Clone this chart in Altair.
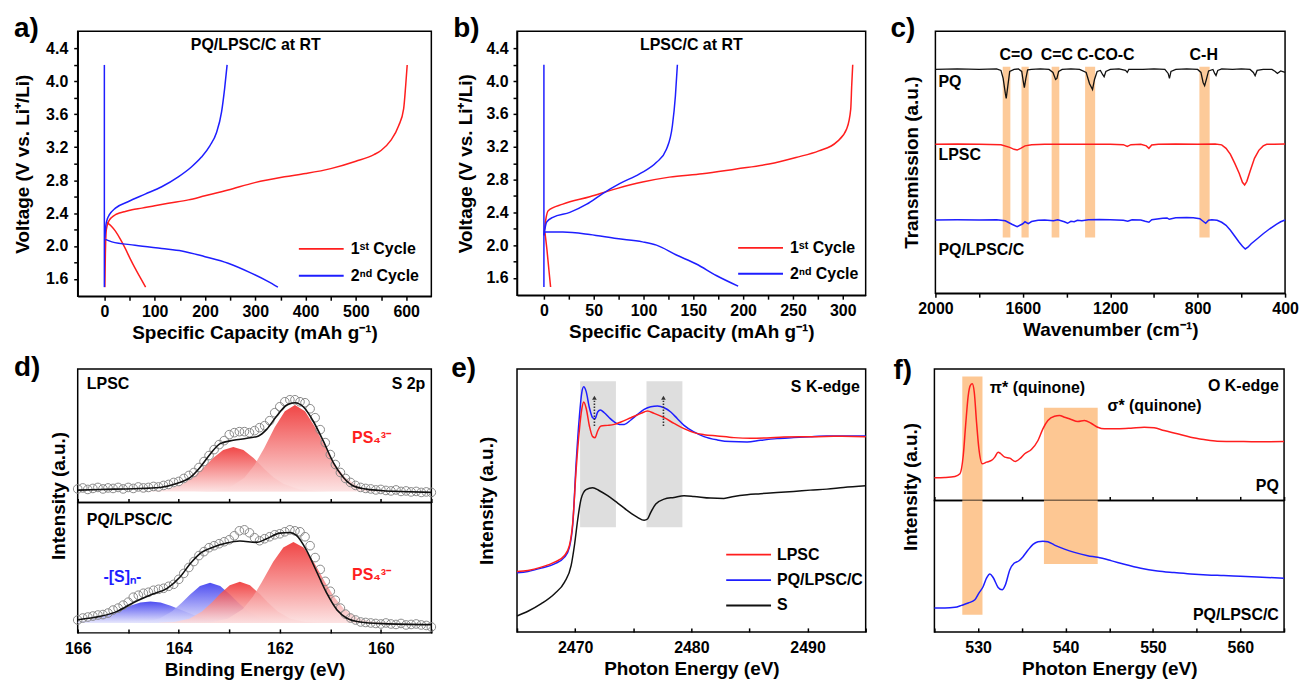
import altair as alt
import pandas as pd

FONT = "Liberation Sans"
RED = "#FF1E1E"
BLUE = "#1E1EFF"
BLACK = "#111111"
ORANGE = "#FDC793"
LGRAY = "#DEDEDE"
CIRC = "#8A8A8A"

# ---------------- Panel a : PQ/LPSC/C galvanostatic ----------------
A_TITLE = ["PQ/LPSC/C at RT"]
A_TITLE_X = [301]
A_TITLE_Y = [4.44]
CYC1 = "1ˢᵗ Cycle"
CYC2 = "2ⁿᵈ Cycle"
A_R_DIS_X = [4, 14, 22, 32, 41.5, 51, 61, 72, 82]
A_R_DIS_Y = [2.29, 2.24, 2.18, 2.08, 1.97, 1.85, 1.73, 1.61, 1.50]
A_R_CHG_X = [1, 2, 4, 8.6, 15, 22, 30, 41.5, 55, 74.5, 100, 127, 167, 200, 246, 299, 358, 400, 450, 500, 536, 550, 569, 585, 595, 599, 602]
A_R_CHG_Y = [1.5, 1.9, 2.2, 2.30, 2.35, 2.38, 2.40, 2.42, 2.44, 2.46, 2.49, 2.52, 2.56, 2.61, 2.68, 2.77, 2.84, 2.88, 2.94, 3.03, 3.11, 3.16, 3.28, 3.46, 3.67, 3.95, 4.2]
A_B_VERT_X = [0, 0]
A_B_VERT_Y = [1.5, 4.2]
A_B_DIS_X = [2, 15, 61, 114, 154, 200, 246, 292, 325, 345]
A_B_DIS_Y = [2.08, 2.05, 2.01, 1.97, 1.94, 1.87, 1.79, 1.67, 1.57, 1.50]
A_B_CHG_X = [1, 3, 6, 10, 22, 48, 81, 114, 147, 173, 193, 210, 223, 233, 239, 244]
A_B_CHG_Y = [2.1, 2.25, 2.33, 2.38, 2.46, 2.54, 2.63, 2.72, 2.84, 2.96, 3.08, 3.22, 3.38, 3.63, 3.91, 4.2]

# ---------------- Panel b : LPSC/C galvanostatic ----------------
B_TITLE = ["LPSC/C at RT"]
B_TITLE_X = [148]
B_TITLE_Y = [4.44]
B_R_DIS_X = [1, 3, 5, 6.7]
B_R_DIS_Y = [2.16, 1.95, 1.7, 1.49]
B_R_CHG_X = [0, 2, 4.3, 19, 46, 73, 99, 126, 159, 193, 226, 253, 276, 294, 304, 308, 309, 310]
B_R_CHG_Y = [2.12, 2.32, 2.42, 2.50, 2.59, 2.69, 2.77, 2.83, 2.87, 2.93, 2.99, 3.07, 3.15, 3.26, 3.42, 3.66, 3.95, 4.2]
B_B_VERT_X = [0, 0]
B_B_VERT_Y = [1.49, 4.2]
B_B_DIS_X = [1, 19, 46, 73, 99, 113, 133, 153, 173, 195]
B_B_DIS_Y = [2.16, 2.16, 2.13, 2.08, 2.04, 2.0, 1.88, 1.77, 1.63, 1.5]
B_B_CHG_X = [0, 2.7, 9, 26, 43, 59, 76, 96, 113, 123, 129, 132, 134]
B_B_CHG_Y = [2.12, 2.28, 2.34, 2.40, 2.50, 2.63, 2.75, 2.87, 3.01, 3.17, 3.46, 3.82, 4.2]

# ---------------- Panel c : FTIR ----------------
C_PQ_X = [2000,1900,1800,1720,1700,1690,1680,1676,1670,1660,1640,1620,1605,1598,1593,1586,1578,1560,1520,1480,1462,1450,1444,1436,1420,1380,1340,1310,1295,1281,1272,1260,1245,1235,1228,1220,1200,1160,1130,1122,1115,1050,1000,950,935,929,922,900,850,800,785,775,768,760,750,730,722,716,708,690,640,600,560,545,537,528,500,460,445,435,420,400]
C_PQ_Y = [224,224.5,224,224.5,223,215,200,195,205,222,224,224.5,222,212,205.7,215,223.5,224,224.5,224,221,214,215,222,224,224.5,224,221,210,204,214,222,223,219,216.7,222,224,224.5,223,221,224,224,224.5,224,220,215,222,224,224.5,224,221,211,207.7,214,222.5,224,220,218,223,224.5,224,224.5,224,221,217.7,223,224,224,222,220,222.5,221]
C_LPSC_X = [2000,1900,1800,1700,1660,1640,1626,1610,1590,1560,1500,1400,1300,1200,1140,1122,1105,1060,1035,1023,1010,980,900,800,720,690,670,650,630,610,595,585,575,560,540,520,500,484,450,400]
C_LPSC_Y = [149,149.3,149,148.5,146,144,143.3,145,147.5,148.7,149,149,149.2,149,148.7,147,148.7,149,147.5,145,148.3,149,149.3,149,149.3,148.5,145,139,130,120,111,108.3,112,122,135,143,147.5,149,149,149.3]
C_PQC_X = [2000,1900,1800,1720,1680,1650,1626,1600,1590,1575,1560,1530,1500,1460,1440,1410,1395,1380,1365,1350,1330,1300,1250,1200,1140,1120,1100,1060,1040,1023,1010,960,940,930,900,850,820,790,775,763,750,735,711,690,670,650,630,610,595,582,570,555,530,500,470,440,420,400]
C_PQC_Y = [73.3,73.5,73.3,73.5,72.5,69,66.7,69.5,71.5,69.7,71.7,73,73.3,72.5,73.5,71.5,70,72,71.5,73,72.5,73.5,73.8,73.5,73,72,73.5,73.3,72,71,73.5,75,75.3,74,75.5,75.7,75.5,74.5,72,70,73,73.5,73,71,68,63,57,51,47,44.3,46,49.5,54,59.5,64.5,69,71.5,73.3]
C_BAND_X1 = [1692, 1606, 1468, 1315, 792]
C_BAND_X2 = [1657, 1573, 1433, 1269, 745]
C_BAND_Y1 = [55.7] * 5
C_BAND_Y2 = [226.7] * 5
C_BOND_TXT = ["C=O", "C=C", "C-CO-C", "C-H"]
C_BOND_X = [1631, 1444, 1220, 772]
C_BOND_Y = [238.3, 238.3, 238.3, 238.3]
C_SAMPLE_TXT = ["PQ", "LPSC", "PQ/LPSC/C"]
C_SAMPLE_X = [1986, 1986, 1986]
C_SAMPLE_Y = [211.7, 138.3, 43.3]

# ---------------- Panel d : XPS S 2p ----------------
D_BE = [166.0,165.9,165.8,165.7,165.6,165.5,165.4,165.3,165.2,165.1,165.0,164.9,164.8,164.7,164.6,164.5,164.4,164.3,164.2,164.1,164.0,163.9,163.8,163.7,163.6,163.5,163.4,163.3,163.2,163.1,163.0,162.9,162.8,162.7,162.6,162.5,162.4,162.3,162.2,162.1,162.0,161.9,161.8,161.7,161.6,161.5,161.4,161.3,161.2,161.1,161.0,160.9,160.8,160.7,160.6,160.5,160.4,160.3,160.2,160.1,160.0,159.9,159.8,159.7,159.6,159.5,159.4,159.3,159.2,159.1,159.0]
D_TOP_PTS = [13.5,14.5,13,14,15,13.5,14.5,14,15,13.5,15,14,15.5,14.5,15,16,15.5,17,18,20,21,24,27,30,35,41,47,53,58,62,68,70,71,71,70,72,75,77,82,90,96,101,103,103,101,100,94,85,73,60,48,38,30,24,20,17,15,14,13.5,12.5,13,12,11.5,12.5,11,11.5,10.5,11,10,10.5,10]
D_BOT_PTS = [13,15,16,17,18,18.5,20,23,25,28,31,36,38,40,41,43,44,45,47,49,54,60,66,72,78,82,86,88,90,92,94,98,103,104,101,96,93,95,97,99,100,102,104,103,102,97,88,76,64,52,42,33,25,19,15,13,11,10.5,10,9.5,9,10,9,8.5,9.5,8,8.5,9,8,7.5,6]
D_TOP_FIT_X = [166.0,165.55,164.89,164.37,164.04,163.77,163.58,163.38,163.18,162.92,162.65,162.42,162.26,162.06,161.86,161.70,161.53,161.34,161.14,160.94,160.74,160.55,160.28,159.95,159.62,159.0]
D_TOP_FIT_Y = [12.3,13,13.7,15,19,25,35,48.3,59,62.3,64.3,66.7,73.3,86.7,97.7,100,95.7,81.7,61.7,40,25,16.7,13.3,11.7,11,10]
D_TOP_P1_X = [164.92,164.52,164.22,163.92,163.72,163.54,163.32,163.12,162.92,162.72,162.52,162.30,162.12,161.92,161.62,161.32,160.92]
D_TOP_P1_Y = [11,11.4,13.1,18.4,25.1,33.3,44.5,52.6,55.7,52.6,44.5,33.3,25.1,18.4,13.1,11.4,11]
D_TOP_P2_X = [163.7,163.3,163.0,162.7,162.5,162.31,162.1,161.9,161.7,161.5,161.3,161.09,160.9,160.7,160.4,160.1,159.7]
D_TOP_P2_Y = [11,11.75,14.8,24.6,37.5,54.3,75.5,91.5,97.7,91.5,75.5,54.3,37.5,24.6,14.8,11.75,11]
D_TOP_BASE = 11
D_BOT_FIT_X = [166.0,165.55,165.22,164.89,164.56,164.23,163.97,163.77,163.58,163.31,163.05,162.79,162.46,162.26,162.0,161.80,161.67,161.47,161.27,161.07,160.87,160.68,160.41,159.95,159.0]
D_BOT_FIT_Y = [13.3,16.7,21.7,30.7,38.3,45,56.7,70,80,86.7,90.7,92.7,91.3,95,100.7,101.3,98.3,83.3,61.7,40,23.3,15,11,9.3,8.3]
D_BOT_S1_X = [166.0,165.76,165.46,165.28,164.96,164.76,164.56,164.36,164.16,163.84,163.66,163.36,162.96,162.56]
D_BOT_S1_Y = [11.3,13.1,17.3,20.85,27.5,30.6,31.7,30.6,27.5,20.85,17.3,13.1,10.7,10.1]
D_BOT_S2_X = [164.98,164.68,164.38,164.13,163.94,163.78,163.58,163.38,163.18,162.98,162.82,162.63,162.38,162.08,161.78]
D_BOT_S2_Y = [10.2,11,14.5,21.8,30.35,38.6,47.2,50.7,47.2,38.6,30.35,21.8,14.5,11,10.2]
D_BOT_P1_X = [164.39,164.09,163.79,163.54,163.34,163.19,162.99,162.79,162.59,162.39,162.24,162.04,161.79,161.49,161.19]
D_BOT_P1_Y = [10.1,10.9,14.2,21.5,30.85,38.9,48,51.7,48,38.9,30.85,21.5,14.2,10.9,10.1]
D_BOT_P2_X = [163.73,163.33,163.03,162.73,162.53,162.36,162.13,161.93,161.73,161.53,161.33,161.10,160.93,160.73,160.43,160.13,159.73]
D_BOT_P2_Y = [10,10.9,14.3,24.2,36.7,50.85,71.8,86.1,91.7,86.1,71.8,50.85,36.7,24.2,14.3,10.9,10]
D_BOT_BASE = 10
D_TOP_TXT = ["LPSC", "S 2p"]
D_TOP_TXT_X = [165.82, 159.12]
D_TOP_TXT_Y = [118.7, 118.7]
D_PS4 = ["PS₄³⁻"]
D_TOP_PS4_X = [160.57]
D_TOP_PS4_Y = [64.7]
D_BOT_TXT = ["PQ/LPSC/C"]
D_BOT_TXT_X = [165.82]
D_BOT_TXT_Y = [114.3]
D_BOT_PS4_X = [160.57]
D_BOT_PS4_Y = [58.3]
D_SN = ["-[S]ₙ-"]
D_SN_X = [165.49]
D_SN_Y = [56.3]

# ---------------- Panel e : S K-edge XANES ----------------
E_LPSC_X = [2465,2465.94,2467.09,2468.23,2469.09,2469.51,2469.8,2470.09,2470.37,2470.57,2470.74,2470.94,2471.23,2471.51,2471.71,2471.94,2472.23,2472.8,2473.37,2473.94,2474.8,2475.66,2476.23,2476.8,2477.66,2478.51,2479.37,2480.23,2481.09,2482.23,2483.66,2485.09,2486.51,2487.94,2489.37,2490.8,2492.23,2495]
E_LPSC_Y = [60.7,61.7,65,70,76.7,86.7,110,163.3,203.3,223.3,230.7,225,206.7,196,195,201.7,206.7,207.3,208.3,210.7,215,219.3,221.7,219.3,215,209.3,204,200,198,196.7,195,194.3,194.7,195.7,196,196,196.3,196]
E_PQC_X = [2465,2465.94,2467.09,2468.23,2469.09,2469.51,2469.8,2470.09,2470.37,2470.57,2470.74,2470.94,2471.23,2471.51,2471.71,2471.94,2472.17,2472.51,2472.94,2473.37,2473.8,2474.23,2474.8,2475.37,2475.94,2476.51,2477.09,2477.66,2478.23,2478.8,2479.37,2480.23,2481.09,2482.23,2483.37,2484.8,2485.94,2487.37,2488.8,2490.23,2491.66,2493.09,2495]
E_PQC_Y = [59.3,60.7,64,68.3,75,85,108.3,170,216.7,240,246,241.7,225,215,214,220.7,222.7,220,215,210.7,208.3,208.3,212.7,218.3,223.3,226,226.7,225,220.7,214,207.3,200.7,196,192.7,191,190.7,192.3,194,195,196,196.7,196.7,196.7]
E_S_X = [2465,2465.94,2467.09,2468.23,2469.09,2469.66,2469.94,2470.23,2470.51,2470.94,2471.51,2472.09,2472.8,2473.66,2474.51,2475.37,2475.94,2476.23,2476.51,2476.94,2477.66,2478.51,2479.37,2480.23,2481.66,2482.8,2483.66,2484.8,2485.94,2487.37,2488.8,2490.23,2491.66,2493.09,2495]
E_S_Y = [16,20.7,28.3,38.3,50,66.7,86.7,113.3,133.3,142.7,144.7,141.7,136.7,129.3,121.7,115,112,113.3,120,128.3,133.3,135,136.7,136,134.3,134,136,137.7,138.7,140,141,142.3,143.3,145,146.7]
E_BAND_X1 = [2470.43, 2476.14]
E_BAND_X2 = [2473.51, 2479.23]
E_BAND_Y1 = [105, 105]
E_BAND_Y2 = [251.7, 251.7]
E_ARROW_X = [2471.66, 2477.6]
E_ARROW_Y1 = [206.7, 206.7]
E_ARROW_Y2 = [232, 232]
E_ARROW_TIP = [235, 235]
E_TXT = ["S K-edge"]
E_TXT_X = [2494.5]
E_TXT_Y = [246.3]

# ---------------- Panel f : O K-edge XANES ----------------
F_PQ_X = [525,526.21,527.35,527.92,528.3,528.57,528.87,529.1,529.33,529.56,529.82,530.09,530.47,530.96,531.53,531.91,532.29,532.59,533.05,533.62,534.26,534.76,535.33,536.09,536.85,537.41,537.98,538.74,539.31,539.88,540.64,541.4,542.16,542.92,543.68,544.44,545.96,547.48,549.0,550.13,551.27,552.79,554.31,555.83,557.35,559.62,561.9,565]
F_PQ_Y = [22.7,23,24,26.7,45,75,105,115,116.7,108.3,78.3,51.7,36.7,38.3,40,43.3,48.3,46.7,43.3,42.3,39,41.7,46.7,51,60,71.7,80,84.3,85,83.3,81,79,80,77.3,73.3,71.7,71.7,72.3,73.3,72.7,70,66.7,63.3,61,59.3,59,58.7,59]
F_PQC_X = [525,526.21,527.35,528.11,528.87,529.63,530.09,530.58,530.96,531.34,531.72,532.29,532.75,533.12,533.62,534.11,534.64,535.14,535.71,536.28,536.85,537.41,537.98,538.74,539.88,541.02,542.54,543.68,545.2,546.72,548.61,550.51,552.41,554.31,556.21,558.1,560.0,561.9,565]
F_PQC_Y = [24,24,24.7,26.7,29,32.3,39,45.7,54,58.3,54.7,44.7,42.3,47.3,62.3,69,71.3,75.7,82.3,88,90.7,91.3,90.7,87.3,83.3,80,76.7,75,71.7,68,64,61.3,59.7,58.3,57.3,56.7,56,55.3,54]
F_BAND_X1 = [528.19, 537.53]
F_BAND_X2 = [530.5, 543.68]
F_TOP_BAND_Y1 = [124, 92.7]
F_TOP_BAND_Y2 = [0, 0]
F_BOT_BAND_Y1 = [17.3, 68.3]
F_BOT_BAND_Y2 = [132.3, 132.3]
F_TOP_TXT_L = ["π* (quinone)", "σ* (quinone)"]
F_TOP_TXT_L_X = [531.34, 544.8]
F_TOP_TXT_L_Y = [112.7, 94.7]
F_TOP_TXT_R = ["O K-edge", "PQ"]
F_TOP_TXT_R_X = [564.4, 564.4]
F_TOP_TXT_R_Y = [114.3, 14.7]
F_BOT_TXT_R = ["PQ/LPSC/C"]
F_BOT_TXT_R_X = [564.4]
F_BOT_TXT_R_Y = [17]


# ================= helpers =================
def lines_df(parts):
    rows = []
    for series, seg, xs, ys in parts:
        for i, (xv, yv) in enumerate(zip(xs, ys)):
            rows.append({"x": xv, "y": yv, "series": series, "seg": seg, "i": i})
    return pd.DataFrame(rows)


def xy_df(xs, ys, **extra):
    d = {"x": xs, "y": ys, "i": list(range(len(xs)))}
    d.update(extra)
    return pd.DataFrame(d)


def xaxis(title, values, step, inward=False, labels=True):
    kw = dict(values=values, tickSize=4, tickWidth=1.5, tickColor="black",
              labelExpr=f"datum.value % {step} === 0 ? format(datum.value, 'd') : ''",
              labelFlush=False, labelOverlap=False, grid=False,
              domainColor="black", domainWidth=1.5, titlePadding=4,
              labelPadding=3)
    kw["title"] = title
    if not labels:
        kw["labels"] = False
    if inward:
        kw["offset"] = -4
        kw["domain"] = False
        kw["labelPadding"] = 8
    return alt.Axis(**kw)


def yaxis_volt(title_pad, label_pad):
    return alt.Axis(title="Voltage (V vs. Li⁺/Li)",
                    values=[1.6, 1.8, 2.0, 2.2, 2.4, 2.6, 2.8, 3.0, 3.2, 3.4, 3.6, 3.8, 4.0, 4.2, 4.4],
                    labelExpr="round(datum.value*10) % 4 === 0 ? format(datum.value, '.1f') : ''",
                    tickSize=4, tickWidth=1.5, tickColor="black", labelPadding=label_pad,
                    labelOverlap=False, grid=False, domainColor="black", domainWidth=1.5,
                    minExtent=32, maxExtent=32, titlePadding=title_pad)


def yaxis_blank(title, pad, title_y=None):
    kw = dict(title=title, labels=False, ticks=False, domain=False, grid=False,
              minExtent=0, maxExtent=0, titlePadding=pad)
    if title_y is not None:
        kw["titleY"] = title_y
    return alt.Axis(**kw)


def legend(lx, ly, row_pad, label_off):
    return alt.Legend(title=None, orient="none", legendX=lx, legendY=ly,
                      symbolType="M-3,0L3,0", symbolSize=225, symbolStrokeWidth=1.8,
                      labelFont=FONT, labelFontSize=16, labelFontWeight="bold",
                      labelColor="black", labelOffset=label_off, rowPadding=row_pad,
                      padding=0)


def texts(x, y, t, xs, ys, align="left", color="black", size=16):
    df = pd.DataFrame({"x": xs, "y": ys, "t": t})
    return alt.Chart(df).mark_text(font=FONT, fontWeight="bold", fontSize=size, align=align,
                                   baseline="middle", color=color).encode(x=x, y=y, text="t:N")


def plabel(s, dx, dy):
    return alt.Chart(pd.DataFrame({"t": [s]})).mark_text(
        font=FONT, fontWeight="bold", fontSize=28, align="left", baseline="alphabetic",
        color="black").encode(text="t:N", x=alt.value(dx), y=alt.value(dy))


def grad(top, bottom):
    return alt.LinearGradient(gradient="linear", x1=0, x2=0, y1=0, y2=1,
                              stops=[alt.GradientStop(color=top, offset=0),
                                     alt.GradientStop(color=bottom, offset=1)])


RED_G = grad("#EE2626", "#FCDEDE")
BLUE_G = grad("#2E2EEE", "#E2E2FC")


def gcd_panel(curve_parts, vert_x, vert_y, x, y, leg):
    df = lines_df(curve_parts)
    curves = alt.Chart(df).mark_line(strokeWidth=1.5, interpolate="monotone").encode(
        x=x, y=y,
        color=alt.Color("series:N", scale=alt.Scale(domain=[CYC1, CYC2], range=[RED, BLUE]), legend=leg),
        detail="seg:N", order="i:Q")
    vert = alt.Chart(xy_df(vert_x, vert_y)).mark_line(strokeWidth=1.5, color=BLUE).encode(x=x, y=y, order="i:Q")
    return curves, vert


# ================= Panel a =================
a_x = alt.X("x:Q", scale=alt.Scale(domain=[-53, 650], nice=False, zero=False),
            axis=xaxis("Specific Capacity (mAh g⁻¹)", list(range(0, 601, 50)), 100))
a_y = alt.Y("y:Q", scale=alt.Scale(domain=[1.39, 4.61], nice=False, zero=False),
            axis=yaxis_volt(13, 6))
a_curves, a_vert = gcd_panel(
    [(CYC1, "rd", A_R_DIS_X, A_R_DIS_Y), (CYC1, "rc", A_R_CHG_X, A_R_CHG_Y),
     (CYC2, "bd", A_B_DIS_X, A_B_DIS_Y), (CYC2, "bc", A_B_CHG_X, A_B_CHG_Y)],
    A_B_VERT_X, A_B_VERT_Y, a_x, a_y, legend(236, 210, 10, 21))
panel_a = alt.layer(a_curves, a_vert,
                    texts(a_x, a_y, A_TITLE, A_TITLE_X, A_TITLE_Y, align="center"),
                    plabel("a)", -64, 6)).properties(width=355, height=266)

# ================= Panel b =================
b_x = alt.X("x:Q", scale=alt.Scale(domain=[-27, 323], nice=False, zero=False),
            axis=xaxis("Specific Capacity (mAh g⁻¹)", list(range(0, 301, 25)), 50))
b_y = alt.Y("y:Q", scale=alt.Scale(domain=[1.39, 4.61], nice=False, zero=False),
            axis=yaxis_volt(10, 5))
b_curves, b_vert = gcd_panel(
    [(CYC1, "rd", B_R_DIS_X, B_R_DIS_Y), (CYC1, "rc", B_R_CHG_X, B_R_CHG_Y),
     (CYC2, "bd", B_B_DIS_X, B_B_DIS_Y), (CYC2, "bc", B_B_CHG_X, B_B_CHG_Y)],
    B_B_VERT_X, B_B_VERT_Y, b_x, b_y, legend(236, 209, 9, 21))
panel_b = alt.layer(b_curves, b_vert,
                    texts(b_x, b_y, B_TITLE, B_TITLE_X, B_TITLE_Y, align="center"),
                    plabel("b)", -64, 6)).properties(width=350, height=265)

# ================= Panel c =================
c_x = alt.X("x:Q", scale=alt.Scale(domain=[400, 2000], reverse=True, nice=False, zero=False),
            axis=xaxis("Wavenumber (cm⁻¹)", list(range(400, 2001, 200)), 400))
c_y = alt.Y("y:Q", scale=alt.Scale(domain=[0, 262.3], nice=False, zero=False),
            axis=yaxis_blank("Transmission (a.u.)", 14))
c_bands = alt.Chart(pd.DataFrame({"x": C_BAND_X1, "x2": C_BAND_X2, "y": C_BAND_Y1, "y2": C_BAND_Y2})
                    ).mark_rect(color=ORANGE, opacity=0.95).encode(x=c_x, x2="x2:Q", y=c_y, y2="y2:Q")
c_pq = alt.Chart(xy_df(C_PQ_X, C_PQ_Y)).mark_line(color=BLACK, strokeWidth=1.3).encode(x=c_x, y=c_y, order="i:Q")
c_lp = alt.Chart(xy_df(C_LPSC_X, C_LPSC_Y)).mark_line(color=RED, strokeWidth=1.5).encode(x=c_x, y=c_y, order="i:Q")
c_pc = alt.Chart(xy_df(C_PQC_X, C_PQC_Y)).mark_line(color=BLUE, strokeWidth=1.5).encode(x=c_x, y=c_y, order="i:Q")
panel_c = alt.layer(c_bands, c_pq, c_lp, c_pc,
                    texts(c_x, c_y, C_BOND_TXT, C_BOND_X, C_BOND_Y, align="center"),
                    texts(c_x, c_y, C_SAMPLE_TXT, C_SAMPLE_X, C_SAMPLE_Y, align="left"),
                    plabel("c)", -45, 6)).properties(width=351, height=263)

# ================= Panel d =================
d_xs = alt.Scale(domain=[159, 166], reverse=True, nice=False, zero=False)
d_ticks = [159, 160, 161, 162, 163, 164, 165, 166]
dt_x = alt.X("x:Q", scale=d_xs, axis=xaxis(None, d_ticks, 2, inward=True, labels=False))
dt_y = alt.Y("y:Q", scale=alt.Scale(domain=[0, 134], nice=False, zero=False), axis=None)


def area(xs, ys, base, g, x, y):
    df = pd.DataFrame({"x": xs, "y": ys, "b": [base] * len(xs)})
    return alt.Chart(df).mark_area(color=g, opacity=0.85).encode(x=x, y=y, y2="b:Q")


def circles(ys, x, y):
    return alt.Chart(xy_df(D_BE, ys)).mark_point(shape="circle", filled=False, size=75,
                                                  color=CIRC, strokeWidth=1, opacity=1).encode(x=x, y=y)


def fit(xs, ys, x, y):
    return alt.Chart(xy_df(xs, ys)).mark_line(color=BLACK, strokeWidth=1.6, interpolate="monotone").encode(x=x, y=y, order="i:Q")


d_top = alt.layer(
    area(D_TOP_P1_X, D_TOP_P1_Y, D_TOP_BASE, RED_G, dt_x, dt_y),
    area(D_TOP_P2_X, D_TOP_P2_Y, D_TOP_BASE, RED_G, dt_x, dt_y),
    circles(D_TOP_PTS, dt_x, dt_y),
    fit(D_TOP_FIT_X, D_TOP_FIT_Y, dt_x, dt_y),
    texts(dt_x, dt_y, D_TOP_TXT[:1], D_TOP_TXT_X[:1], D_TOP_TXT_Y[:1], align="left"),
    texts(dt_x, dt_y, D_TOP_TXT[1:], D_TOP_TXT_X[1:], D_TOP_TXT_Y[1:], align="right"),
    texts(dt_x, dt_y, D_PS4, D_TOP_PS4_X, D_TOP_PS4_Y, align="left", color=RED),
    plabel("d)", -64, 7),
).properties(width=355, height=134)

db_x = alt.X("x:Q", scale=d_xs, axis=xaxis("Binding Energy (eV)", d_ticks, 2, inward=True))
db_y = alt.Y("y:Q", scale=alt.Scale(domain=[0, 131.7], nice=False, zero=False),
             axis=yaxis_blank("Intensity (a.u.)", 9, -7))
d_bot = alt.layer(
    area(D_BOT_S1_X, D_BOT_S1_Y, D_BOT_BASE, BLUE_G, db_x, db_y),
    area(D_BOT_S2_X, D_BOT_S2_Y, D_BOT_BASE, BLUE_G, db_x, db_y),
    area(D_BOT_P1_X, D_BOT_P1_Y, D_BOT_BASE, RED_G, db_x, db_y),
    area(D_BOT_P2_X, D_BOT_P2_Y, D_BOT_BASE, RED_G, db_x, db_y),
    circles(D_BOT_PTS, db_x, db_y),
    fit(D_BOT_FIT_X, D_BOT_FIT_Y, db_x, db_y),
    texts(db_x, db_y, D_BOT_TXT, D_BOT_TXT_X, D_BOT_TXT_Y, align="left"),
    texts(db_x, db_y, D_PS4, D_BOT_PS4_X, D_BOT_PS4_Y, align="left", color=RED),
    texts(db_x, db_y, D_SN, D_SN_X, D_SN_Y, align="left", color=BLUE),
).properties(width=355, height=131)

# ================= Panel e =================
e_x = alt.X("x:Q", scale=alt.Scale(domain=[2465, 2495], nice=False, zero=False),
            axis=xaxis("Photon Energy (eV)", list(range(2465, 2496, 5)), 10, inward=True))
e_y = alt.Y("y:Q", scale=alt.Scale(domain=[0, 264], nice=False, zero=False),
            axis=yaxis_blank("Intensity (a.u.)", 21))
E_L1, E_L2, E_L3 = "LPSC", "PQ/LPSC/C", "S"
e_df = lines_df([(E_L3, "s", E_S_X, E_S_Y), (E_L2, "p", E_PQC_X, E_PQC_Y), (E_L1, "l", E_LPSC_X, E_LPSC_Y)])
e_bands = alt.Chart(pd.DataFrame({"x": E_BAND_X1, "x2": E_BAND_X2, "y": E_BAND_Y1, "y2": E_BAND_Y2})
                    ).mark_rect(color=LGRAY).encode(x=e_x, x2="x2:Q", y=e_y, y2="y2:Q")
e_lines = alt.Chart(e_df).mark_line(strokeWidth=1.5, interpolate="monotone").encode(
    x=e_x, y=e_y,
    color=alt.Color("series:N", scale=alt.Scale(domain=[E_L1, E_L2, E_L3], range=[RED, BLUE, BLACK]),
                    legend=legend(224, 178, 8.5, 20)),
    detail="seg:N", order="i:Q")
e_arrows = alt.Chart(pd.DataFrame({"x": E_ARROW_X, "y": E_ARROW_Y1, "y2": E_ARROW_Y2})).mark_rule(
    color="#333333", strokeWidth=1.6, strokeDash=[1.5, 1.5]).encode(x=e_x, y=e_y, y2="y2:Q")
e_tips = alt.Chart(pd.DataFrame({"x": E_ARROW_X, "y": E_ARROW_TIP})).mark_point(
    shape="triangle-up", filled=True, size=22, color="#333333", opacity=1).encode(x=e_x, y=e_y)
panel_e = alt.layer(e_bands, e_lines, e_arrows, e_tips,
                    texts(e_x, e_y, E_TXT, E_TXT_X, E_TXT_Y, align="right"),
                    plabel("e)", -66, 8)).properties(width=350, height=264)

# ================= Panel f =================
f_xs = alt.Scale(domain=[525, 565], nice=False, zero=False)
f_ticks = list(range(525, 566, 5))
ft_x = alt.X("x:Q", scale=f_xs, axis=xaxis(None, f_ticks, 10, inward=True, labels=False))
ft_y = alt.Y("y:Q", scale=alt.Scale(domain=[0, 131.7], nice=False, zero=False), axis=None)
f_top = alt.layer(
    alt.Chart(pd.DataFrame({"x": F_BAND_X1, "x2": F_BAND_X2, "y": F_TOP_BAND_Y1, "y2": F_TOP_BAND_Y2})
              ).mark_rect(color=ORANGE).encode(x=ft_x, x2="x2:Q", y=ft_y, y2="y2:Q"),
    alt.Chart(xy_df(F_PQ_X, F_PQ_Y)).mark_line(color=RED, strokeWidth=1.5, interpolate="monotone").encode(x=ft_x, y=ft_y, order="i:Q"),
    texts(ft_x, ft_y, F_TOP_TXT_L, F_TOP_TXT_L_X, F_TOP_TXT_L_Y, align="left"),
    texts(ft_x, ft_y, F_TOP_TXT_R, F_TOP_TXT_R_X, F_TOP_TXT_R_Y, align="right"),
    plabel("f)", -41, 10),
).properties(width=351, height=132)

fb_x = alt.X("x:Q", scale=f_xs, axis=xaxis("Photon Energy (eV)", f_ticks, 10, inward=True))
fb_y = alt.Y("y:Q", scale=alt.Scale(domain=[0, 132.3], nice=False, zero=False),
             axis=yaxis_blank("Intensity (a.u.)", 14, -14))
f_bot = alt.layer(
    alt.Chart(pd.DataFrame({"x": F_BAND_X1, "x2": F_BAND_X2, "y": F_BOT_BAND_Y1, "y2": F_BOT_BAND_Y2})
              ).mark_rect(color=ORANGE).encode(x=fb_x, x2="x2:Q", y=fb_y, y2="y2:Q"),
    alt.Chart(xy_df(F_PQC_X, F_PQC_Y)).mark_line(color=BLUE, strokeWidth=1.5, interpolate="monotone").encode(x=fb_x, y=fb_y, order="i:Q"),
    texts(fb_x, fb_y, F_BOT_TXT_R, F_BOT_TXT_R_X, F_BOT_TXT_R_Y, align="right"),
).properties(width=351, height=132)

# ================= layout =================
# With flush bounds a nested concat occupies no space of its own, so each
# spacing below is measured from the previous leaf panel's plot edge
# (or from the nested group's origin).
d_group = alt.vconcat(d_top, d_bot, spacing=0, bounds="flush").resolve_scale(color="independent")
f_group = alt.vconcat(f_top, f_bot, spacing=0, bounds="flush").resolve_scale(color="independent")
row1 = alt.hconcat(panel_a,
                   alt.hconcat(panel_b, panel_c, spacing=70, bounds="flush").resolve_scale(color="independent"),
                   spacing=86, bounds="flush").resolve_scale(color="independent")
row2 = alt.hconcat(d_group,
                   alt.hconcat(panel_e, f_group, spacing=69, bounds="flush").resolve_scale(color="independent"),
                   spacing=441, bounds="flush").resolve_scale(color="independent")
chart = alt.vconcat(row1, row2, spacing=339, bounds="flush").resolve_scale(color="independent")

chart = chart.configure(
    font=FONT, padding={"left": 13, "top": 13, "right": 0, "bottom": 0}, background="white"
).configure_view(stroke="black", strokeWidth=1.5).configure_axis(
    labelFont=FONT, labelFontSize=16, labelFontWeight="bold", labelColor="black",
    titleFont=FONT, titleFontSize=19, titleFontWeight="bold", titleColor="black",
)

chart.save("out.html", embed_options={"renderer": "svg", "actions": False})
